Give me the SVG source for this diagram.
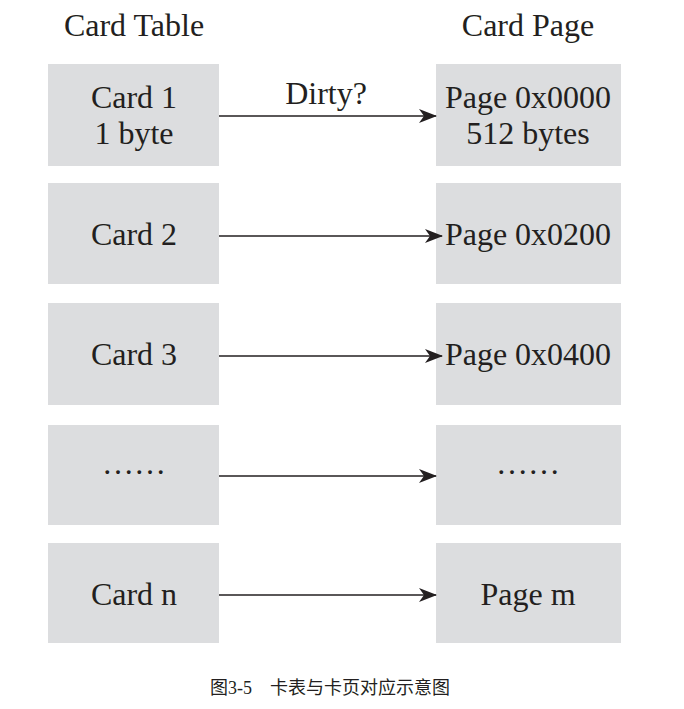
<svg xmlns="http://www.w3.org/2000/svg" width="684" height="709" viewBox="0 0 684 709">
<style>
.box{fill:#dcdddf}
.t{font-family:"Liberation Serif","Times New Roman",serif;font-size:32px;fill:#231f20;text-anchor:middle}
.c{stroke:#231f20;stroke-width:1.6;fill:none}
.cap{font-family:"Liberation Serif","Noto Sans CJK SC",serif;font-size:18px;fill:#231f20}
</style>
<defs>
<marker id="ah" markerWidth="18" markerHeight="14" refX="17" refY="7" orient="auto" markerUnits="userSpaceOnUse">
<path d="M0,0 L18,7 L0,14 L5,7 Z" fill="#231f20"/>
</marker>
</defs>
<rect width="684" height="709" fill="#fff"/>
<text class="t" x="134" y="36">Card Table</text>
<text class="t" x="528" y="36">Card Page</text>
<g id="card1"><rect class="box" x="48" y="64" width="171" height="102"/><text class="t" x="134" y="108">Card 1</text><text class="t" x="134" y="144">1 byte</text></g>
<g id="card2"><rect class="box" x="48" y="183" width="171" height="101"/><text class="t" x="134" y="245">Card 2</text></g>
<g id="card3"><rect class="box" x="48" y="303" width="171" height="102"/><text class="t" x="134" y="365">Card 3</text></g>
<g id="cardDots"><rect class="box" x="48" y="425" width="171" height="100"/><text class="t" x="134" y="474">……</text></g>
<g id="cardN"><rect class="box" x="48" y="543" width="171" height="100"/><text class="t" x="134" y="605">Card n</text></g>
<g id="page0"><rect class="box" x="436" y="64" width="185" height="102"/><text class="t" x="528" y="108">Page 0x0000</text><text class="t" x="528" y="144">512 bytes</text></g>
<g id="page200"><rect class="box" x="436" y="183" width="185" height="101"/><text class="t" x="528" y="245">Page 0x0200</text></g>
<g id="page400"><rect class="box" x="436" y="303" width="185" height="102"/><text class="t" x="528" y="365">Page 0x0400</text></g>
<g id="pageDots"><rect class="box" x="436" y="425" width="185" height="100"/><text class="t" x="528" y="474">……</text></g>
<g id="pageM"><rect class="box" x="436" y="543" width="185" height="100"/><text class="t" x="528" y="605">Page m</text></g>
<g id="connectors">
<line class="c" x1="219" y1="116" x2="436" y2="116" marker-end="url(#ah)"/>
<text class="t" x="326" y="104">Dirty?</text>
<line class="c" x1="219" y1="236" x2="442" y2="236" marker-end="url(#ah)"/>
<line class="c" x1="219" y1="356" x2="442" y2="356" marker-end="url(#ah)"/>
<line class="c" x1="219" y1="476" x2="436" y2="476" marker-end="url(#ah)"/>
<line class="c" x1="219" y1="595" x2="436" y2="595" marker-end="url(#ah)"/>
</g>
<text class="cap" x="210" y="694">图3-5　卡表与卡页对应示意图</text>
</svg>
